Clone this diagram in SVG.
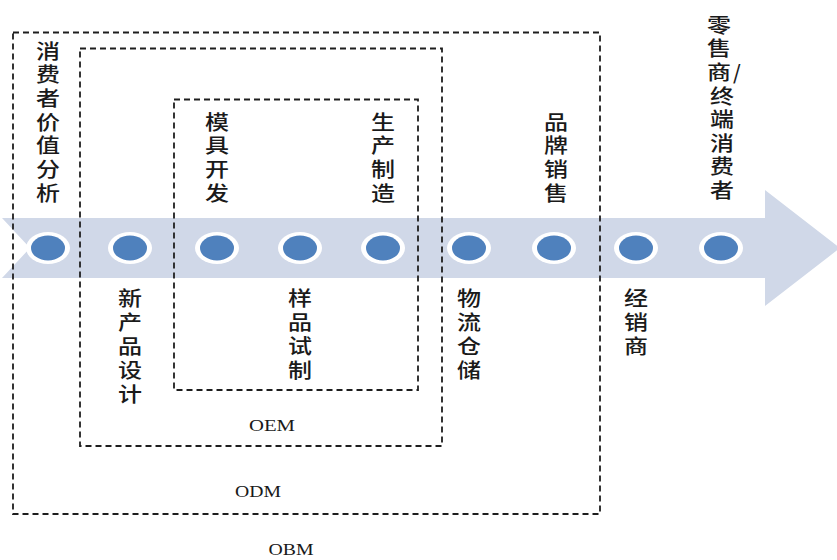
<svg xmlns="http://www.w3.org/2000/svg" width="837" height="560" viewBox="0 0 837 560">
  <defs>
    <style>
      .box { fill: none; stroke: #1e1e1e; stroke-width: 1.8; stroke-dasharray: 6 4; }
      .ring { fill: #ffffff; }
      .dot { fill: #4F81BD; }
      .vt { font-family: "Noto Sans CJK SC", "Noto Sans", sans-serif; font-size: 20px; font-weight: 500; fill: #1a1a1a; writing-mode: vertical-rl; text-orientation: upright; letter-spacing: 3.7px; }
      .hz { font-family: "Noto Sans CJK SC", "Noto Sans", sans-serif; font-size: 20px; font-weight: 500; fill: #1a1a1a; text-anchor: middle; }
      .lat { font-family: "Liberation Serif", "DejaVu Serif", serif; font-size: 17px; fill: #1a1a1a; text-anchor: middle; }
    </style>
    <g id="stage">
      <ellipse class="ring" cx="0" cy="0" rx="22" ry="16"/>
      <ellipse class="dot" cx="0" cy="0" rx="17" ry="12.5"/>
    </g>
  </defs>
  <rect width="837" height="560" fill="#ffffff"/>

  <g id="connectors">
    <polygon id="flow-arrow" points="2,218 765,218 765,190 840,248 765,306 765,278 2,278 30,248" fill="#D0D8E8"/>
  </g>

  <g id="box-obm">
    <rect class="box" x="13" y="32.5" width="587" height="481.5"/>
    <text class="lat" x="291" y="555" textLength="45" lengthAdjust="spacingAndGlyphs">OBM</text>
  </g>
  <g id="box-odm">
    <rect class="box" x="80" y="48.5" width="362" height="397.5"/>
    <text class="lat" x="258" y="497" textLength="46" lengthAdjust="spacingAndGlyphs">ODM</text>
  </g>
  <g id="box-oem">
    <rect class="box" x="174" y="99.5" width="244" height="290.5"/>
    <text class="lat" x="272" y="431" textLength="46" lengthAdjust="spacingAndGlyphs">OEM</text>
  </g>

  <g id="node-consumer-analysis">
    <use href="#stage" x="48" y="248"/>
    <text class="vt" transform="translate(48,0) scale(1.2,1)" x="0" y="41">消费者价值分析</text>
  </g>
  <g id="node-new-product-design">
    <use href="#stage" x="130" y="248"/>
    <text class="vt" transform="translate(130,0) scale(1.2,1)" x="0" y="288" style="letter-spacing:4px">新产品设计</text>
  </g>
  <g id="node-mold-development">
    <use href="#stage" x="217" y="248"/>
    <text class="vt" transform="translate(217,0) scale(1.2,1)" x="0" y="112">模具开发</text>
  </g>
  <g id="node-sample-trial">
    <use href="#stage" x="300" y="248"/>
    <text class="vt" transform="translate(300,0) scale(1.2,1)" x="0" y="288" style="letter-spacing:4px">样品试制</text>
  </g>
  <g id="node-manufacturing">
    <use href="#stage" x="383" y="248"/>
    <text class="vt" transform="translate(383,0) scale(1.2,1)" x="0" y="112">生产制造</text>
  </g>
  <g id="node-logistics">
    <use href="#stage" x="469" y="248"/>
    <text class="vt" transform="translate(469,0) scale(1.2,1)" x="0" y="288" style="letter-spacing:4px">物流仓储</text>
  </g>
  <g id="node-brand-sales">
    <use href="#stage" x="554" y="248"/>
    <text class="vt" transform="translate(556,0) scale(1.2,1)" x="0" y="112">品牌销售</text>
  </g>
  <g id="node-distributor">
    <use href="#stage" x="636" y="248"/>
    <text class="vt" transform="translate(636,0) scale(1.2,1)" x="0" y="288" style="letter-spacing:4px">经销商</text>
  </g>
  <g id="node-retail-consumer">
    <use href="#stage" x="721" y="248"/>
    <text class="vt" transform="translate(719,0) scale(1.2,1)" x="0" y="15" style="letter-spacing:3.6px">零售商</text>
    <text class="hz" x="737" y="80">/</text>
    <text class="vt" transform="translate(722,0) scale(1.2,1)" x="0" y="86" style="letter-spacing:3.6px">终端消费者</text>
  </g>
</svg>
